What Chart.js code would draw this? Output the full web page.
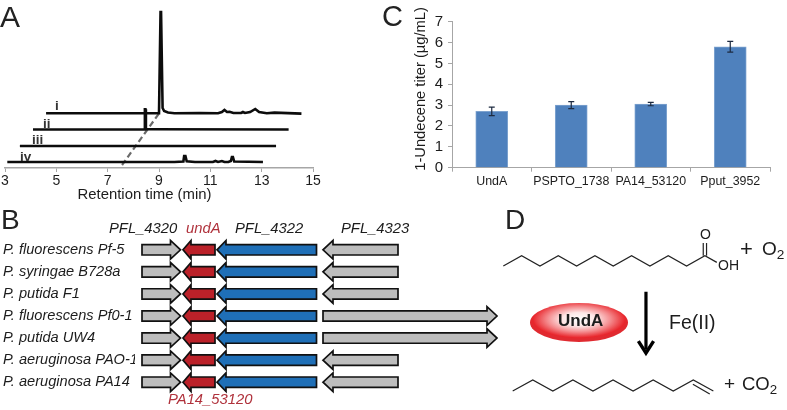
<!DOCTYPE html>
<html>
<head>
<meta charset="utf-8">
<script src="https://cdn.jsdelivr.net/npm/chart.js@4"></script>
<style>
html,body{margin:0;padding:0;background:#fff;}
#page{position:relative;width:787px;height:410px;overflow:hidden;font-family:"Liberation Sans",Arial,sans-serif;color:#1c1c1c;}
canvas{position:absolute;}
.t{position:absolute;line-height:1;white-space:nowrap;}
.panel{color:#222;}
.it{font-style:italic;font-size:14.8px;}
.red{color:#b0323c;}
.tr{font-weight:bold;font-size:13.5px;color:#333;}
.chem{font-size:14px;}
.mid{transform:translate(-50%,-50%);}
sub{font-size:.72em;line-height:0;vertical-align:-.3em;}
#undA{position:absolute;left:530px;top:303px;width:98px;height:39px;border-radius:50%;
 background:radial-gradient(ellipse 50% 50% at 50% 42%,#fff 0%,#fde6e6 35%,#f48a8d 65%,#e8262c 94%,#e02a30 100%);}
</style>
</head>
<body>
<div id="page">
<canvas id="chartA" width="330" height="205" style="left:0;top:0"></canvas>
<canvas id="chartC" width="407" height="205" style="left:380px;top:0"></canvas>
<canvas id="chartB" width="505" height="172" style="left:0;top:230px"></canvas>
<canvas id="chartD" width="287" height="170" style="left:500px;top:235px"></canvas>

<div class="t panel" style="left:0;top:2px;font-size:30px">A</div>
<div class="t panel" style="left:1px;top:206px;font-size:28px">B</div>
<div class="t panel" style="left:382px;top:2px;font-size:29px">C</div>
<div class="t panel" style="left:505px;top:206px;font-size:28px">D</div>

<div class="t mid" style="left:144.5px;top:194px;font-size:14.9px">Retention time (min)</div>
<div class="t mid" style="left:420px;top:88.5px;font-size:14.7px;transform:translate(-50%,-50%) rotate(-90deg)">1-Undecene titer (µg/mL)</div>

<div class="t tr" style="left:55px;top:99px">i</div>
<div class="t tr" style="left:43px;top:117px">ii</div>
<div class="t tr" style="left:32px;top:133px">iii</div>
<div class="t tr" style="left:20px;top:150px">iv</div>

<div class="t it" style="left:109px;top:221px">PFL_4320</div>
<div class="t it red" style="left:186px;top:221px">undA</div>
<div class="t it" style="left:235px;top:221px">PFL_4322</div>
<div class="t it" style="left:341px;top:221px">PFL_4323</div>
<div class="t it red" style="left:168px;top:392px">PA14_53120</div>

<div class="t chem" style="left:700px;top:227px">O</div>
<div class="t chem" style="left:718px;top:258px">OH</div>
<div class="t" style="left:740px;top:238px;font-size:22px">+</div>
<div class="t" style="left:762px;top:239px;font-size:19px">O<sub>2</sub></div>
<div id="undA"></div>
<div class="t" style="left:558px;top:312px;font-size:17px;font-weight:bold">UndA</div>
<div class="t" style="left:669px;top:313px;font-size:19.5px">Fe(II)</div>
<div class="t" style="left:724px;top:374px;font-size:19px">+</div>
<div class="t" style="left:742px;top:375px;font-size:18.5px">CO<sub>2</sub></div>
</div>

<script>
// A: chromatograms, signal in arbitrary units with each trace sitting on its own offset
const traceIx=[4.6,9.0,9.06,9.08,9.14,9.2,9.35,9.6,10.6,11.3,11.45,11.55,11.65,11.75,11.9,12.2,12.27,12.35,12.55,12.75,12.9,13.2,13.5,14.55]
const traceIy=[54.7,54.7,156,156,60,57,55.5,54.7,54.9,54.8,56,58,56,56.2,55,55,56,55,56,59,56,54.8,55.4,54.4]
const traceIIx=[4.09,8.43,8.45,8.47,8.49,8.58,14.05]
const traceIIy=[38.5,38.5,58.7,58.7,38.8,38.8,38.5]
const traceIIIx=[3.58,13.56]
const traceIIIy=[22,22]
const traceIVx=[3.09,9.6,9.95,9.98,10.03,10.08,10.4,11.1,11.2,11.3,11.45,11.55,11.7,11.8,11.84,11.88,11.93,13.05]
const traceIVy=[6,6,6.5,12,12,6.8,6,6,7,6,7,6,6,7,11,11,6.5,6]
const shiftX=[7.56,9.04]
const shiftY=[3,56]
const retentionTicks=[3,5,7,9,11,13,15]

// B: gene neighbourhoods, positions in bp from the start of PFL_4320
const species=['P. fluorescens Pf-5','P. syringae B728a','P. putida F1','P. fluorescens Pf0-1','P. putida UW4','P. aeruginosa PAO-1','P. aeruginosa PA14']
const pfl4320=[0,385]
const undA=[410,730]
const pfl4322=[750,1745]
const pfl4323Start=[1810,1810,1810,1810,1810,1810,1810]
const pfl4323End=[2560,2560,2560,3550,3550,2560,2560]
const pfl4323Dir=[-1,-1,-1,1,1,-1,-1]

// C: titers
const strains=['UndA','PSPTO_1738','PA14_53120','Pput_3952']
const titer=[2.7,3.0,3.05,5.8]
const titerErr=[0.2,0.17,0.08,0.26]

// D: skeletal formulas, atom number along the chain against zigzag height
const acidX=[0,1,2,3,4,5,6,7,8,9,10,11,11.65]
const acidY=[0,1,0,1,0,1,0,1,0,1,0,1,0.35]
const carbonylAx=[10.91,10.91]
const carbonylBx=[11.09,11.09]
const carbonylY=[1,2.23]
const alkeneX=[0,1,2,3,4,5,6,7,8,9,10]
const alkeneY=[0,1,0,1,0,1,0,1,0,1,0]
const vinylX=[8.98,9.82]
const vinylY=[0.62,-0.28]
const shaftX=[7.785,7.785]
const shaftY=[-2.5,-8.1]
const headX=[7.37,7.785,8.2]
const headY=[-7.3,-8.45,-7.3]

Chart.defaults.animation=false
Chart.defaults.responsive=false
Chart.defaults.devicePixelRatio=1
Chart.defaults.font.family='"Liberation Sans",Arial,sans-serif'
Chart.defaults.color='#1c1c1c'
Chart.defaults.plugins.legend.display=false
Chart.defaults.plugins.tooltip.enabled=false

const axisGray='#a6a6a6'
const pts=(xs,ys)=>xs.map((x,i)=>({x:x,y:ys[i]}))
const linea=(xs,ys,color,width,extra)=>Object.assign({data:pts(xs,ys),showLine:true,pointRadius:0,borderColor:color,borderWidth:width,borderJoinStyle:'miter'},extra||{})

//panel A
new Chart(document.getElementById('chartA'),{
    type:'scatter',
    data:{datasets:[
        linea(traceIx,traceIy,'#0c0c0c',2.6),
        linea(traceIIx,traceIIy,'#0c0c0c',2.6),
        linea(traceIIIx,traceIIIy,'#0c0c0c',2.6),
        linea(traceIVx,traceIVy,'#0c0c0c',2.6),
        linea(shiftX,shiftY,'#6a6a6a',2.2,{borderDash:[6,3.5]})
    ]},
    options:{
        layout:{padding:{left:5,right:17,top:0,bottom:0}},
        scales:{
            x:{type:'linear',min:3,max:15,
                afterBuildTicks:a=>{a.ticks=retentionTicks.map(v=>({value:v}))},
                afterFit:a=>{a.height=37},
                border:{color:axisGray,width:1.5},
                grid:{drawOnChartArea:false,color:axisGray,tickLength:4},
                ticks:{font:{size:14},padding:1,maxRotation:0,color:'#1c1c1c'}},
            y:{display:false,min:0,max:168}
        }
    }
})

//panel C, error bars go on top of the bars
const errorBars={id:'errorBars',afterDatasetsDraw(chart){
    const c=chart.ctx, y=chart.scales.y
    c.save()
    c.strokeStyle='#1d2a40'
    c.lineWidth=1.2
    chart.getDatasetMeta(0).data.forEach((bar,i)=>{
        const top=y.getPixelForValue(titer[i]+titerErr[i]), bot=y.getPixelForValue(titer[i]-titerErr[i])
        c.beginPath()
        c.moveTo(bar.x,top);c.lineTo(bar.x,bot)
        c.moveTo(bar.x-3,top);c.lineTo(bar.x+3,top)
        c.moveTo(bar.x-3,bot);c.lineTo(bar.x+3,bot)
        c.stroke()
    })
    c.restore()
}}
new Chart(document.getElementById('chartC'),{
    type:'bar',
    data:{labels:strains,datasets:[{data:titer,backgroundColor:'#4f81bd',borderColor:'#7ea3cf',borderWidth:1,barThickness:32}]},
    options:{
        layout:{padding:{top:21.7,right:17,left:0,bottom:0}},
        scales:{
            x:{afterFit:a=>{a.height=37.3},
                border:{color:axisGray,width:1},
                grid:{drawOnChartArea:false,color:axisGray,tickLength:4},
                ticks:{font:{size:12.4},padding:2,maxRotation:0,autoSkip:false}},
            y:{min:0,max:7,afterFit:a=>{a.width=72},
                border:{color:axisGray,width:1},
                grid:{drawOnChartArea:false,color:axisGray,tickLength:4},
                ticks:{font:{size:15},stepSize:1,padding:5,autoSkip:false}}
        }
    },
    plugins:[errorBars]
})

//panel B, the floating bars are redrawn as arrows, direction -1 points left
const geneArrows={id:'geneArrows',beforeDatasetDraw(chart,args){
    const c=chart.ctx
    const ds=chart.data.datasets[args.index]
    c.save()
    c.fillStyle=ds.backgroundColor
    c.strokeStyle='#111'
    c.lineWidth=1.7
    c.lineJoin='miter'
    args.meta.data.forEach((bar,i)=>{
        const dir=ds.dirs[i]
        const left=Math.min(bar.x,bar.base), right=Math.max(bar.x,bar.base)
        const tail=dir>0?left:right, tip=dir>0?right:left
        const neck=tip-dir*ds.headLen
        const y=bar.y, b=5.2, h=9.3
        c.beginPath()
        c.moveTo(tail,y-b);c.lineTo(neck,y-b);c.lineTo(neck,y-h);c.lineTo(tip,y)
        c.lineTo(neck,y+h);c.lineTo(neck,y+b);c.lineTo(tail,y+b)
        c.closePath()
        c.fill();c.stroke()
    })
    c.restore()
    return false
}}
const geneSet=(spans,dirs,color,headLen)=>({data:spans,dirs:dirs,backgroundColor:color,headLen:headLen,barThickness:10,grouped:false})
new Chart(document.getElementById('chartB'),{
    type:'bar',
    data:{labels:species,datasets:[
        geneSet(species.map(()=>pfl4320),species.map(()=>1),'#bdbdbd',10),
        geneSet(species.map(()=>undA),species.map(()=>-1),'#bb2129',8),
        geneSet(species.map(()=>pfl4322),species.map(()=>-1),'#1f6fb7',9),
        geneSet(species.map((s,i)=>[pfl4323Start[i],pfl4323End[i]]),pfl4323Dir,'#bdbdbd',10)
    ]},
    options:{
        indexAxis:'y',
        layout:{padding:{left:3}},
        scales:{
            x:{display:false,min:-70,max:3630,type:'linear'},
            y:{type:'category',afterFit:a=>{a.width=132},
                border:{display:false},
                grid:{display:false},
                ticks:{font:{size:14.6,style:'italic'},crossAlign:'far',padding:0,autoSkip:false}}
        }
    },
    plugins:[geneArrows]
})

//panel D, x/y for the acid and the reaction arrow, x2/y2 for the alkene
const bond='#222'
new Chart(document.getElementById('chartD'),{
    type:'scatter',
    data:{datasets:[
        linea(acidX,acidY,bond,1.2),
        linea(carbonylAx,carbonylY,bond,1.2),
        linea(carbonylBx,carbonylY,bond,1.2),
        linea(alkeneX,alkeneY,bond,1.2,{xAxisID:'x2',yAxisID:'y2'}),
        linea(vinylX,vinylY,bond,1.2,{xAxisID:'x2',yAxisID:'y2'}),
        linea(shaftX,shaftY,'#000',3.2),
        linea(headX,headY,'#000',3.4)
    ]},
    options:{
        scales:{
            x:{display:false,type:'linear',min:-0.18,max:15.48},
            y:{display:false,min:-13.5,max:3.01},
            x2:{display:false,type:'linear',min:-0.633,max:13.67},
            y2:{display:false,min:-1.27,max:14.18}
        }
    }
})
</script>
</body>
</html>
